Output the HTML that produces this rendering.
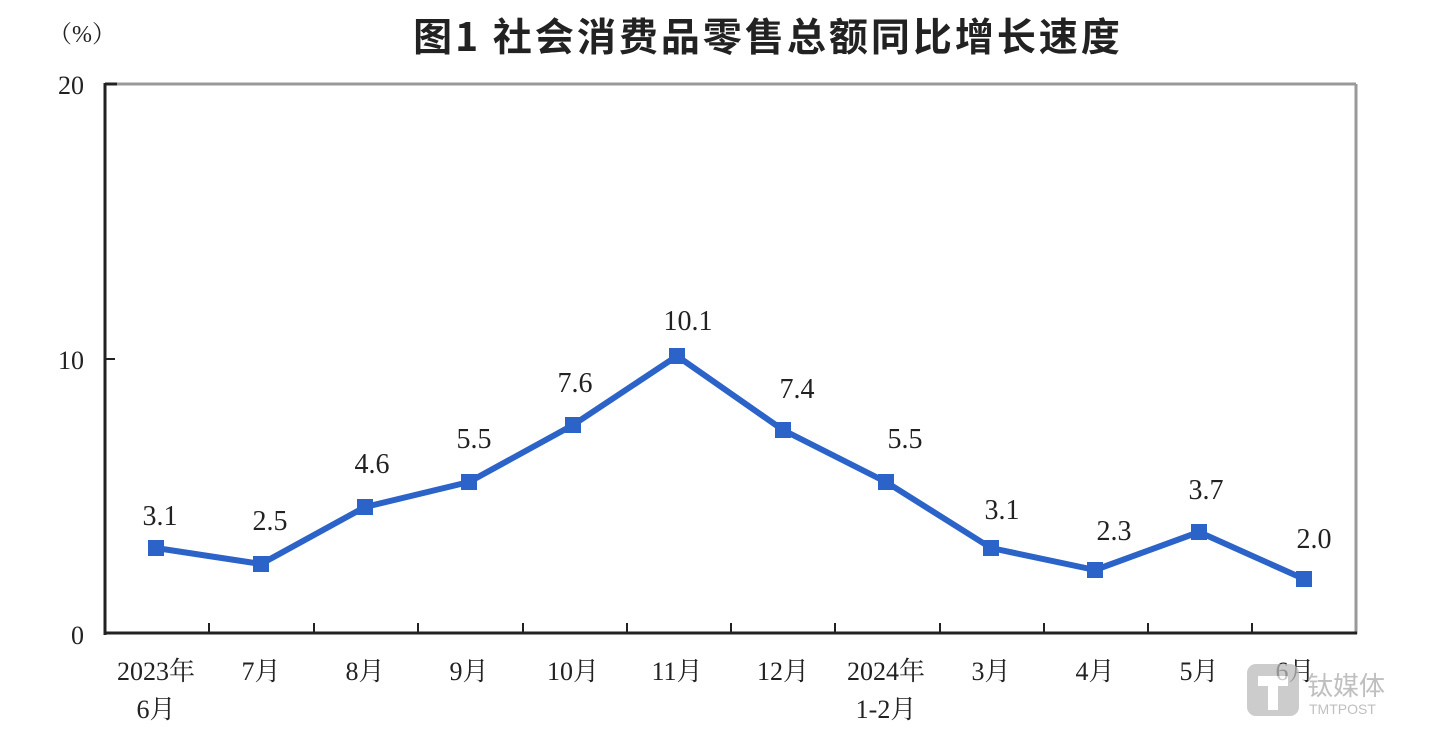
<!DOCTYPE html>
<html><head><meta charset="utf-8"><style>
html,body{margin:0;padding:0;background:#fff;}
svg{display:block;}
text{font-family:"Liberation Serif","Noto Serif CJK SC",serif;fill:#222;}
</style></head><body>
<svg width="1440" height="743" viewBox="0 0 1440 743" xmlns="http://www.w3.org/2000/svg">
<text x="768" y="51" text-anchor="middle" font-size="39" font-weight="bold" letter-spacing="3" style="font-family:'Noto Sans CJK SC',sans-serif">图1  社会消费品零售总额同比增长速度</text>
<text x="82" y="42" text-anchor="middle" font-size="24" fill="#444">（%）</text>
<g font-size="26" text-anchor="end">
<text x="84" y="94">20</text>
<text x="84" y="369">10</text>
<text x="84" y="644">0</text>
</g>
<line x1="105" y1="84" x2="1356" y2="84" stroke="#999" stroke-width="3"/>
<line x1="1356" y1="84" x2="1356" y2="634" stroke="#999" stroke-width="3"/>
<line x1="105" y1="83" x2="105" y2="635" stroke="#222" stroke-width="3"/>
<line x1="105" y1="633" x2="1357" y2="633" stroke="#222" stroke-width="3"/>
<line x1="105" y1="84" x2="117" y2="84" stroke="#222" stroke-width="3"/>
<line x1="105" y1="359" x2="115" y2="359" stroke="#222" stroke-width="2"/>
<g stroke="#222" stroke-width="2">
<line x1="209" y1="633" x2="209" y2="623"/><line x1="314" y1="633" x2="314" y2="623"/>
<line x1="418" y1="633" x2="418" y2="623"/><line x1="523" y1="633" x2="523" y2="623"/>
<line x1="627" y1="633" x2="627" y2="623"/><line x1="731" y1="633" x2="731" y2="623"/>
<line x1="835" y1="633" x2="835" y2="623"/><line x1="940" y1="633" x2="940" y2="623"/>
<line x1="1044" y1="633" x2="1044" y2="623"/><line x1="1148" y1="633" x2="1148" y2="623"/>
<line x1="1252" y1="633" x2="1252" y2="623"/>
</g>
<polyline fill="none" stroke="#2b63c8" stroke-width="6" stroke-linejoin="round" points="156,548 261,564 365,507 469,482 573,425 677,356 783,430 886,482 991,548 1095,570 1199,532 1304,579"/>
<g fill="#2b63c8">
<rect x="148" y="540" width="16" height="16"/><rect x="253" y="556" width="16" height="16"/>
<rect x="357" y="499" width="16" height="16"/><rect x="461" y="474" width="16" height="16"/>
<rect x="565" y="417" width="16" height="16"/><rect x="669" y="348" width="16" height="16"/>
<rect x="775" y="422" width="16" height="16"/><rect x="878" y="474" width="16" height="16"/>
<rect x="983" y="540" width="16" height="16"/><rect x="1087" y="562" width="16" height="16"/>
<rect x="1191" y="524" width="16" height="16"/><rect x="1296" y="571" width="16" height="16"/>
</g>
<g font-size="28" text-anchor="middle">
<text x="160" y="525">3.1</text><text x="270" y="530">2.5</text><text x="372" y="473">4.6</text>
<text x="474" y="448">5.5</text><text x="575" y="392">7.6</text><text x="688" y="330">10.1</text>
<text x="797" y="398">7.4</text><text x="905" y="448">5.5</text><text x="1002" y="519">3.1</text>
<text x="1114" y="540">2.3</text><text x="1206" y="499">3.7</text><text x="1314" y="548">2.0</text>
</g>
<g font-size="26" text-anchor="middle">
<text x="156" y="680">2023年</text><text x="156" y="718">6月</text>
<text x="261" y="680">7月</text><text x="365" y="680">8月</text><text x="469" y="680">9月</text>
<text x="573" y="680">10月</text><text x="677" y="680">11月</text><text x="783" y="680">12月</text>
<text x="886" y="680">2024年</text><text x="886" y="718">1-2月</text>
<text x="991" y="680">3月</text><text x="1095" y="680">4月</text><text x="1199" y="680">5月</text>
<text x="1295" y="680">6月</text>
</g>
<g opacity="0.75">
<rect x="1247" y="664" width="52" height="52" rx="9" fill="#bbb"/>
<path d="M1258 676h30v10h-10v24h-10v-24h-10z" fill="#fff"/>
<text x="1307" y="695" font-size="26" style="fill:#aaa;font-family:'Noto Sans CJK SC',sans-serif">钛媒体</text>
<text x="1309" y="714" font-size="14" style="fill:#aaa;font-family:'Liberation Sans',sans-serif">TMTPOST</text>
</g>
</svg>
</body></html>
